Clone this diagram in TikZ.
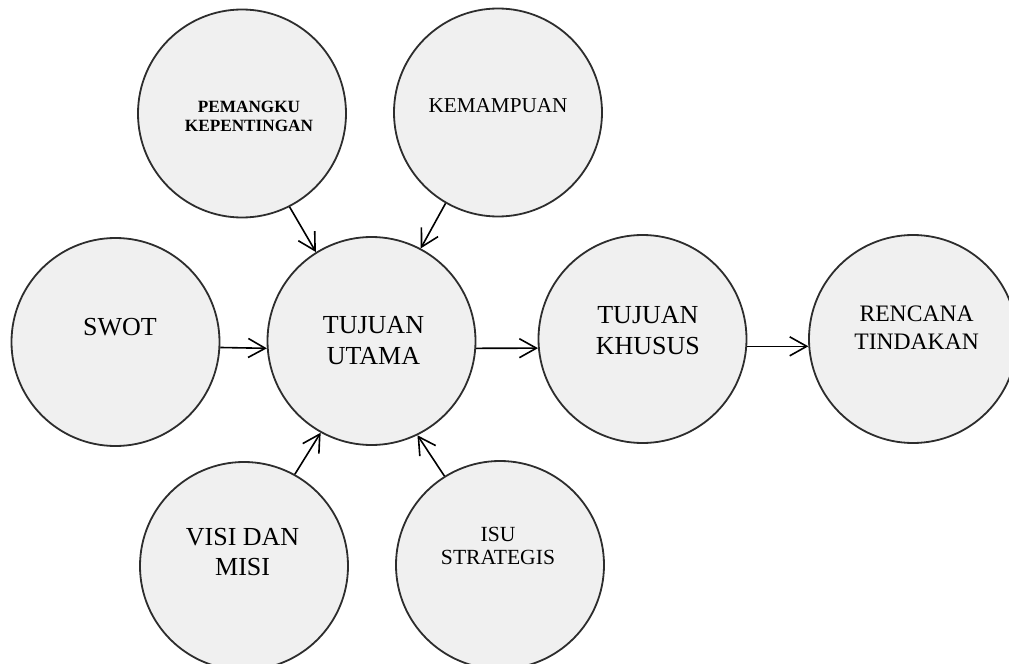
\documentclass[tikz,border=0pt]{standalone}
\usepackage{fontspec}
\setmainfont{Liberation Serif}
\usetikzlibrary{arrows.meta}
\definecolor{bubblefill}{RGB}{240,240,240}
\definecolor{bubbleline}{RGB}{45,45,45}
\tikzset{basic bubble/.style={draw,circle}}
\tikzset{bubble/.style={basic bubble,
                        minimum size=104pt,
                        inner sep=0pt,
                        line width=0.9pt,
                        draw=bubbleline,
                        fill=bubblefill}}
\tikzset{link/.style={draw,
                      line width=0.8pt,
                      -{Straight Barb[length=8.5pt,width=9.5pt]}}}
\tikzset{big text/.style={font=\fontsize{13}{15.5}\selectfont,align=center}}
\tikzset{mid text/.style={font=\fontsize{11.8}{14}\selectfont,align=center}}
\tikzset{bold text/.style={font=\fontsize{8.6}{9.5}\selectfont\bfseries,align=center}}

\begin{document}
\begin{tikzpicture}
      [
      x=0.5pt,y=-0.5pt,
      ]

      % frame
      \useasboundingbox (0,0) rectangle (1009,664);
      \clip (0,0) rectangle (1009,664);

      % bubbles
      \node [bubble,label={[bold text,xshift=3.5pt,yshift=-1.2pt]center:PEMANGKU\\KEPENTINGAN}]
      (pemangku) at (242,113.5) {};
      \node [bubble,label={[mid text,font=\fontsize{10.6}{12}\selectfont,yshift=3.2pt]center:KEMAMPUAN}]
      (kemampuan) at (498,112.5) {};
      \node [bubble,label={[big text,xshift=2.2pt,yshift=7.5pt]center:SWOT}]
      (swot) at (115.5,342) {};
      \node [bubble,label={[big text,xshift=1pt]center:TUJUAN\\UTAMA}]
      (utama) at (371.5,341) {};
      \node [bubble,label={[big text,xshift=2.7pt,yshift=4.2pt]center:TUJUAN\\KHUSUS}]
      (khusus) at (642.5,339) {};
      \node [bubble,label={[mid text,xshift=1.8pt,yshift=5.5pt]center:RENCANA\\TINDAKAN}]
      (rencana) at (913,339) {};
      \node [bubble,label={[big text,font=\fontsize{13}{15}\selectfont,xshift=-0.7pt,yshift=7pt]center:VISI DAN\\MISI}]
      (visi) at (244,566) {};
      \node [bubble,label={[mid text,font=\fontsize{10.8}{11.5}\selectfont,xshift=-1pt,yshift=9.7pt]center:ISU\\STRATEGIS}]
      (isu) at (500,565) {};

      % arrows into the main goal
      \path [link] (pemangku.-63) -- (utama.122);
      \path [link] (kemampuan.240) -- (utama.62);
      \path [link] (swot.-3) -- (utama.184);
      \path [link] (visi.61) -- (utama.241);
      \path [link] (isu.122) -- (utama.-64);

      % arrows to the right
      \path [link] (utama.-4) -- (khusus.185);
      \path [link] (khusus.-4) -- (rencana.184);

    \end{tikzpicture}
\end{document}
